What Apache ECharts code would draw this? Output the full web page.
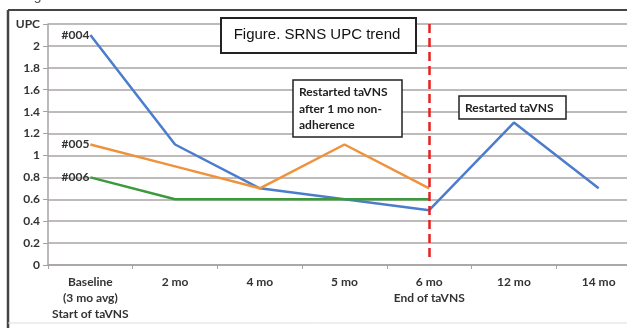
<!DOCTYPE html>
<html><head><meta charset="utf-8">
<script src="https://cdn.jsdelivr.net/npm/echarts@6/dist/echarts.min.js"></script>
<style>html,body{margin:0;padding:0;background:#fff;}#c{width:627px;height:328px;}</style>
</head><body><div id="c"></div>
<script>
const categories = ['Baseline\n(3 mo avg)\nStart of taVNS', '2 mo', '4 mo', '5 mo', '6 mo\nEnd of taVNS', '12 mo', '14 mo'];
const s004 = [2.1, 1.1, 0.7, 0.6, 0.5, 1.3, 0.7];
const s005 = [1.1, 0.9, 0.7, 1.1, 0.7, null, null];
const s006 = [0.8, 0.6, 0.6, 0.6, 0.6, null, null];
const yTicks = {min: 0, max: 2.2, interval: 0.2, topLabel: 'UPC'};
const endCategory = categories[4];

const font = 'Lato, "Open Sans", sans-serif';
const chart = echarts.init(document.getElementById('c'), null, {renderer: 'canvas'});
function mk(name, data, color, extra) {
  return Object.assign({
    name, type: 'line', data, showSymbol: false, symbol: 'none',
    lineStyle: {color, width: 2.5}, itemStyle: {color},
    connectNulls: false, z: 3,
    markPoint: {
      symbol: 'circle', symbolSize: 0, silent: true,
      label: {show: true, position: 'left', distance: 1, formatter: name, color: '#333', fontFamily: font, fontWeight: 'bold', fontSize: 12},
      data: [{coord: [0, data[0]]}]
    }
  }, extra || {});
}
chart.setOption({
  animation: false,
  backgroundColor: '#fff',
  grid: {left: 48, top: 24, height: 241, width: 593, outerBoundsMode: 'none', containLabel: false},
  xAxis: {
    type: 'category', data: categories, boundaryGap: true,
    axisLine: {lineStyle: {color: '#a8a3a3', width: 1.5}},
    axisTick: {show: true, interval: 0, length: 4, lineStyle: {color: '#a8a3a3'}},
    axisLabel: {interval: 0, margin: 9, color: '#333', fontFamily: font, fontWeight: 'bold', fontSize: 12, lineHeight: 16},
    splitLine: {show: false}
  },
  yAxis: {
    type: 'value', min: yTicks.min, max: yTicks.max, interval: yTicks.interval,
    axisLine: {show: true, lineStyle: {color: '#a8a3a3', width: 1.5}},
    axisTick: {show: true, length: 5, lineStyle: {color: '#a8a3a3'}},
    axisLabel: {margin: 8, color: '#333', fontFamily: font, fontWeight: 'bold', fontSize: 12,
      formatter: v => v >= yTicks.max - 0.001 ? yTicks.topLabel : String(+v.toFixed(1))},
    splitLine: {show: true, lineStyle: {color: '#aaa5a5', width: 1.5}}
  },
  series: [
    mk('#004', s004, '#4b7dcc', {
      markLine: {
        silent: true, symbol: 'none',
        lineStyle: {color: '#e8201f', type: [9, 5], width: 2.5},
        label: {show: false},
        data: [[{coord: [endCategory, 2.2]}, {coord: [endCategory, 0.07]}]]
      }
    }),
    mk('#005', s005, '#f0923b'),
    mk('#006', s006, '#3a9a3c')
  ],
  graphic: [
    {type: 'line', shape: {x1: 8, y1: 10, x2: 627, y2: 10}, style: {stroke: '#444', lineWidth: 2}, z: 10},
    {type: 'line', shape: {x1: 8, y1: 10, x2: 8, y2: 328}, style: {stroke: '#444', lineWidth: 2.5}, z: 10},
    {type: 'line', shape: {x1: 8, y1: 323, x2: 627, y2: 323}, style: {stroke: '#ddd', lineWidth: 1}, z: 10},
    {type: 'text', left: 22, top: -11, style: {text: 'Figure', font: '14px Liberation Sans', fill: '#555'}, z: 10},
    {type: 'rect', shape: {x: 221, y: 18, width: 195, height: 35}, style: {fill: '#fff', stroke: '#222', lineWidth: 2}, z: 10},
    {type: 'text', x: 317, y: 35, style: {text: 'Figure. SRNS UPC trend', font: '15px "Liberation Sans"', fill: '#111', align: 'center', verticalAlign: 'middle'}, z: 11},
    {type: 'rect', shape: {x: 293, y: 80, width: 109, height: 57}, style: {fill: '#fff', stroke: '#222', lineWidth: 1.5}, z: 10},
    {type: 'text', x: 299, y: 84, style: {text: 'Restarted taVNS\nafter 1 mo non-\nadherence', font: 'bold 12px Lato', lineHeight: 16.5, fill: '#222', align: 'left', verticalAlign: 'top'}, z: 11},
    {type: 'rect', shape: {x: 459, y: 96, width: 107, height: 23}, style: {fill: '#fff', stroke: '#222', lineWidth: 1.5}, z: 10},
    {type: 'text', x: 465, y: 108, style: {text: 'Restarted taVNS', font: 'bold 12px Lato', fill: '#222', align: 'left', verticalAlign: 'middle'}, z: 11}
  ]
});
</script></body></html>
